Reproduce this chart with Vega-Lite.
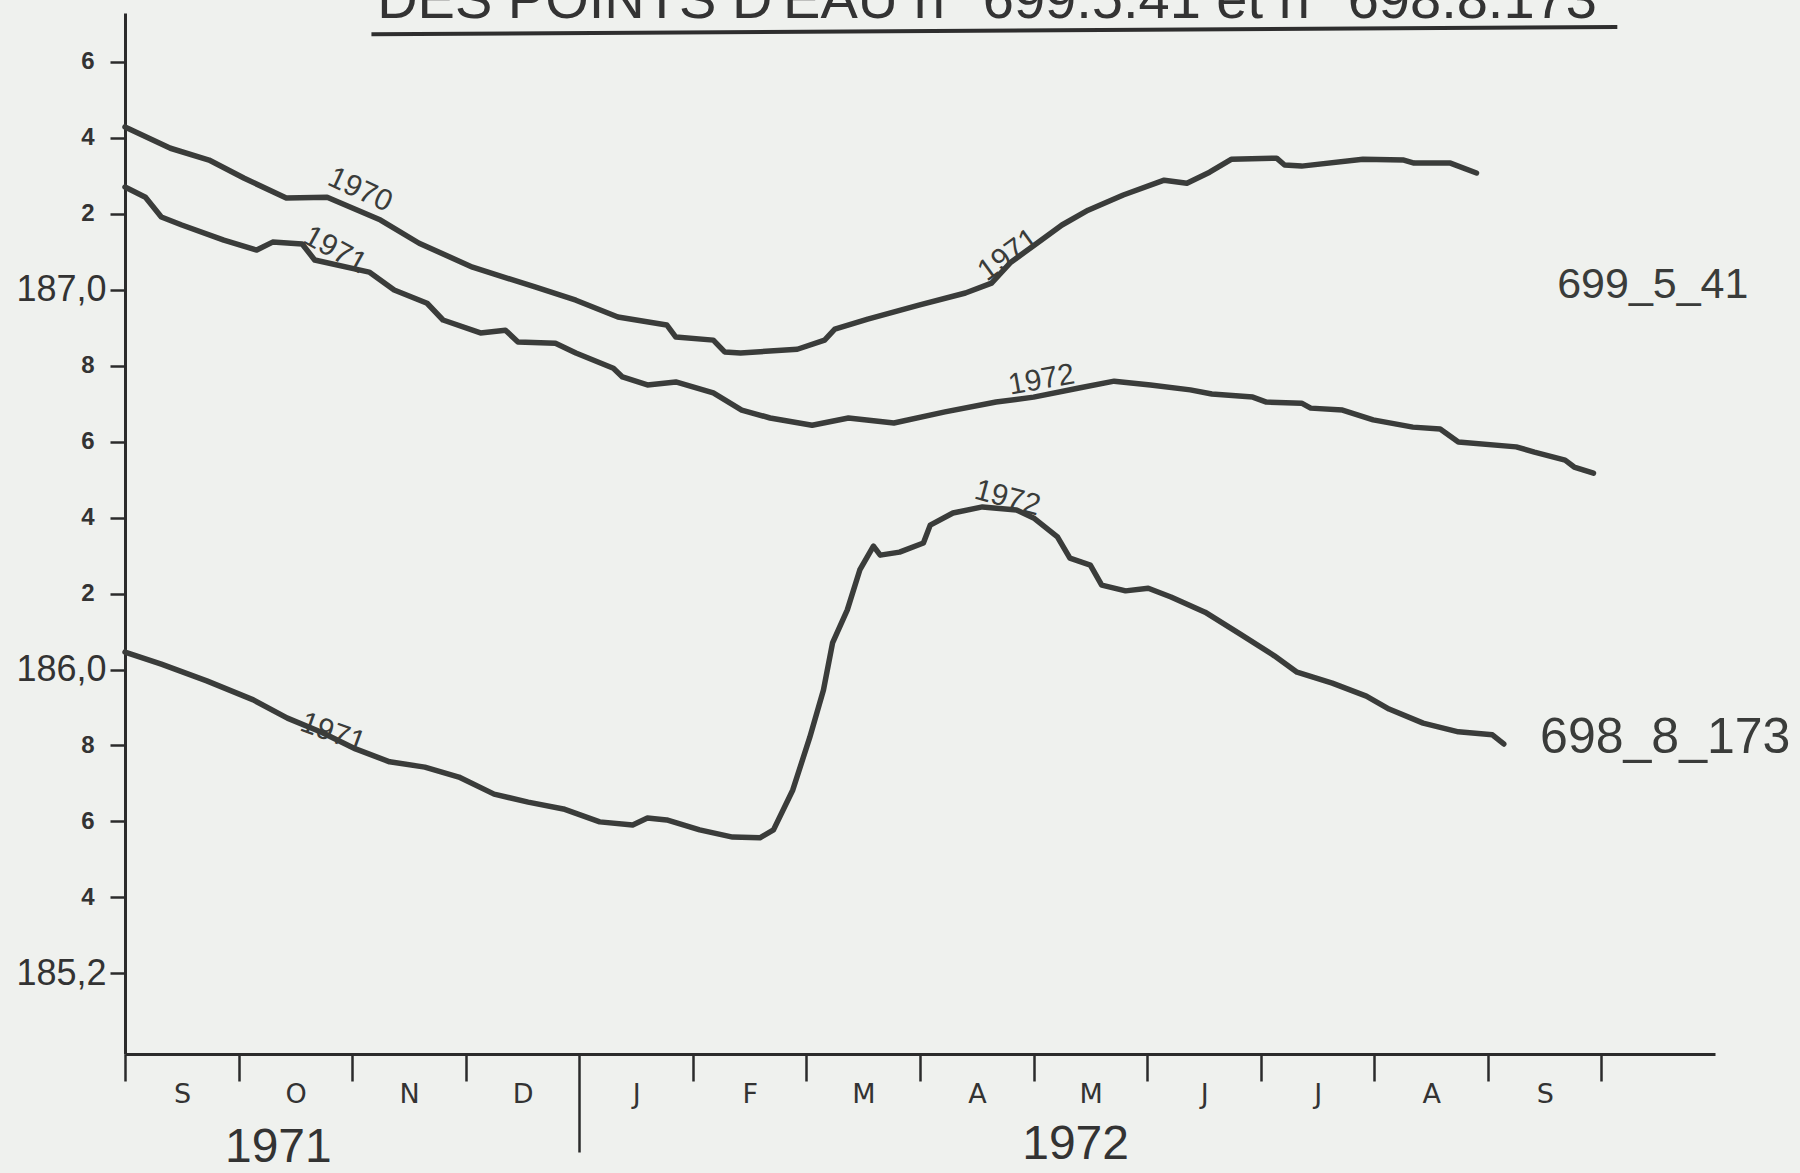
{
  "$schema": "https://vega.github.io/schema/vega-lite/v6.json",
  "width": 1590,
  "height": 1041,
  "autosize": "none",
  "padding": {"left": 125, "top": 13, "right": 85, "bottom": 119},
  "background": "#eff1ee",
  "config": {"view": {"stroke": null}, "font": "Liberation Sans"},
  "datasets": {
    "curves": [
      {"series": "699.5.41 1970-71", "m": 0, "v": 187.428},
      {"series": "699.5.41 1970-71", "m": 0.40, "v": 187.372},
      {"series": "699.5.41 1970-71", "m": 0.74, "v": 187.341},
      {"series": "699.5.41 1970-71", "m": 1.05, "v": 187.293},
      {"series": "699.5.41 1970-71", "m": 1.42, "v": 187.241},
      {"series": "699.5.41 1970-71", "m": 1.78, "v": 187.243},
      {"series": "699.5.41 1970-71", "m": 2.25, "v": 187.183},
      {"series": "699.5.41 1970-71", "m": 2.59, "v": 187.122},
      {"series": "699.5.41 1970-71", "m": 3.06, "v": 187.059},
      {"series": "699.5.41 1970-71", "m": 3.61, "v": 187.007},
      {"series": "699.5.41 1970-71", "m": 3.97, "v": 186.972},
      {"series": "699.5.41 1970-71", "m": 4.34, "v": 186.928},
      {"series": "699.5.41 1970-71", "m": 4.77, "v": 186.907},
      {"series": "699.5.41 1970-71", "m": 4.85, "v": 186.875},
      {"series": "699.5.41 1970-71", "m": 5.18, "v": 186.867},
      {"series": "699.5.41 1970-71", "m": 5.28, "v": 186.836},
      {"series": "699.5.41 1970-71", "m": 5.42, "v": 186.833},
      {"series": "699.5.41 1970-71", "m": 5.92, "v": 186.843},
      {"series": "699.5.41 1970-71", "m": 6.16, "v": 186.867},
      {"series": "699.5.41 1970-71", "m": 6.25, "v": 186.896},
      {"series": "699.5.41 1970-71", "m": 6.54, "v": 186.922},
      {"series": "699.5.41 1970-71", "m": 6.99, "v": 186.959},
      {"series": "699.5.41 1970-71", "m": 7.40, "v": 186.991},
      {"series": "699.5.41 1970-71", "m": 7.63, "v": 187.017},
      {"series": "699.5.41 1970-71", "m": 7.80, "v": 187.072},
      {"series": "699.5.41 1970-71", "m": 8.03, "v": 187.122},
      {"series": "699.5.41 1970-71", "m": 8.25, "v": 187.170},
      {"series": "699.5.41 1970-71", "m": 8.48, "v": 187.209},
      {"series": "699.5.41 1970-71", "m": 8.79, "v": 187.249},
      {"series": "699.5.41 1970-71", "m": 9.15, "v": 187.288},
      {"series": "699.5.41 1970-71", "m": 9.35, "v": 187.280},
      {"series": "699.5.41 1970-71", "m": 9.55, "v": 187.309},
      {"series": "699.5.41 1970-71", "m": 9.74, "v": 187.343},
      {"series": "699.5.41 1970-71", "m": 10.14, "v": 187.346},
      {"series": "699.5.41 1970-71", "m": 10.21, "v": 187.328},
      {"series": "699.5.41 1970-71", "m": 10.36, "v": 187.325},
      {"series": "699.5.41 1970-71", "m": 10.90, "v": 187.343},
      {"series": "699.5.41 1970-71", "m": 11.26, "v": 187.341},
      {"series": "699.5.41 1970-71", "m": 11.35, "v": 187.333},
      {"series": "699.5.41 1970-71", "m": 11.67, "v": 187.333},
      {"series": "699.5.41 1970-71", "m": 11.90, "v": 187.307},

      {"series": "699.5.41 1971-72", "m": 0, "v": 187.270},
      {"series": "699.5.41 1971-72", "m": 0.18, "v": 187.243},
      {"series": "699.5.41 1971-72", "m": 0.32, "v": 187.191},
      {"series": "699.5.41 1971-72", "m": 0.50, "v": 187.170},
      {"series": "699.5.41 1971-72", "m": 0.87, "v": 187.130},
      {"series": "699.5.41 1971-72", "m": 1.16, "v": 187.104},
      {"series": "699.5.41 1971-72", "m": 1.30, "v": 187.125},
      {"series": "699.5.41 1971-72", "m": 1.56, "v": 187.120},
      {"series": "699.5.41 1971-72", "m": 1.67, "v": 187.078},
      {"series": "699.5.41 1971-72", "m": 2.15, "v": 187.046},
      {"series": "699.5.41 1971-72", "m": 2.37, "v": 186.999},
      {"series": "699.5.41 1971-72", "m": 2.66, "v": 186.964},
      {"series": "699.5.41 1971-72", "m": 2.80, "v": 186.920},
      {"series": "699.5.41 1971-72", "m": 3.13, "v": 186.886},
      {"series": "699.5.41 1971-72", "m": 3.35, "v": 186.893},
      {"series": "699.5.41 1971-72", "m": 3.46, "v": 186.862},
      {"series": "699.5.41 1971-72", "m": 3.79, "v": 186.859},
      {"series": "699.5.41 1971-72", "m": 3.97, "v": 186.833},
      {"series": "699.5.41 1971-72", "m": 4.30, "v": 186.793},
      {"series": "699.5.41 1971-72", "m": 4.38, "v": 186.770},
      {"series": "699.5.41 1971-72", "m": 4.60, "v": 186.749},
      {"series": "699.5.41 1971-72", "m": 4.85, "v": 186.757},
      {"series": "699.5.41 1971-72", "m": 5.18, "v": 186.728},
      {"series": "699.5.41 1971-72", "m": 5.43, "v": 186.683},
      {"series": "699.5.41 1971-72", "m": 5.68, "v": 186.662},
      {"series": "699.5.41 1971-72", "m": 6.05, "v": 186.643},
      {"series": "699.5.41 1971-72", "m": 6.37, "v": 186.662},
      {"series": "699.5.41 1971-72", "m": 6.77, "v": 186.649},
      {"series": "699.5.41 1971-72", "m": 7.22, "v": 186.678},
      {"series": "699.5.41 1971-72", "m": 7.67, "v": 186.704},
      {"series": "699.5.41 1971-72", "m": 8.00, "v": 186.717},
      {"series": "699.5.41 1971-72", "m": 8.40, "v": 186.741},
      {"series": "699.5.41 1971-72", "m": 8.71, "v": 186.759},
      {"series": "699.5.41 1971-72", "m": 9.03, "v": 186.749},
      {"series": "699.5.41 1971-72", "m": 9.38, "v": 186.736},
      {"series": "699.5.41 1971-72", "m": 9.57, "v": 186.725},
      {"series": "699.5.41 1971-72", "m": 9.93, "v": 186.717},
      {"series": "699.5.41 1971-72", "m": 10.05, "v": 186.704},
      {"series": "699.5.41 1971-72", "m": 10.36, "v": 186.701},
      {"series": "699.5.41 1971-72", "m": 10.44, "v": 186.688},
      {"series": "699.5.41 1971-72", "m": 10.72, "v": 186.683},
      {"series": "699.5.41 1971-72", "m": 10.99, "v": 186.657},
      {"series": "699.5.41 1971-72", "m": 11.34, "v": 186.638},
      {"series": "699.5.41 1971-72", "m": 11.58, "v": 186.633},
      {"series": "699.5.41 1971-72", "m": 11.74, "v": 186.599},
      {"series": "699.5.41 1971-72", "m": 12.25, "v": 186.586},
      {"series": "699.5.41 1971-72", "m": 12.41, "v": 186.572},
      {"series": "699.5.41 1971-72", "m": 12.68, "v": 186.551},
      {"series": "699.5.41 1971-72", "m": 12.76, "v": 186.533},
      {"series": "699.5.41 1971-72", "m": 12.93, "v": 186.517},

      {"series": "698.8.173 1971-72", "m": 0, "v": 186.046},
      {"series": "698.8.173 1971-72", "m": 0.32, "v": 186.014},
      {"series": "698.8.173 1971-72", "m": 0.72, "v": 185.970},
      {"series": "698.8.173 1971-72", "m": 1.13, "v": 185.920},
      {"series": "698.8.173 1971-72", "m": 1.43, "v": 185.872},
      {"series": "698.8.173 1971-72", "m": 1.73, "v": 185.835},
      {"series": "698.8.173 1971-72", "m": 2.03, "v": 185.791},
      {"series": "698.8.173 1971-72", "m": 2.33, "v": 185.757},
      {"series": "698.8.173 1971-72", "m": 2.64, "v": 185.743},
      {"series": "698.8.173 1971-72", "m": 2.94, "v": 185.717},
      {"series": "698.8.173 1971-72", "m": 3.25, "v": 185.672},
      {"series": "698.8.173 1971-72", "m": 3.55, "v": 185.651},
      {"series": "698.8.173 1971-72", "m": 3.86, "v": 185.633},
      {"series": "698.8.173 1971-72", "m": 4.18, "v": 185.599},
      {"series": "698.8.173 1971-72", "m": 4.47, "v": 185.591},
      {"series": "698.8.173 1971-72", "m": 4.60, "v": 185.609},
      {"series": "698.8.173 1971-72", "m": 4.77, "v": 185.604},
      {"series": "698.8.173 1971-72", "m": 5.06, "v": 185.578},
      {"series": "698.8.173 1971-72", "m": 5.35, "v": 185.559},
      {"series": "698.8.173 1971-72", "m": 5.59, "v": 185.557},
      {"series": "698.8.173 1971-72", "m": 5.71, "v": 185.578},
      {"series": "698.8.173 1971-72", "m": 5.88, "v": 185.683},
      {"series": "698.8.173 1971-72", "m": 6.03, "v": 185.822},
      {"series": "698.8.173 1971-72", "m": 6.15, "v": 185.946},
      {"series": "698.8.173 1971-72", "m": 6.23, "v": 186.070},
      {"series": "698.8.173 1971-72", "m": 6.36, "v": 186.157},
      {"series": "698.8.173 1971-72", "m": 6.47, "v": 186.262},
      {"series": "698.8.173 1971-72", "m": 6.59, "v": 186.325},
      {"series": "698.8.173 1971-72", "m": 6.65, "v": 186.301},
      {"series": "698.8.173 1971-72", "m": 6.82, "v": 186.309},
      {"series": "698.8.173 1971-72", "m": 7.03, "v": 186.333},
      {"series": "698.8.173 1971-72", "m": 7.09, "v": 186.380},
      {"series": "698.8.173 1971-72", "m": 7.29, "v": 186.412},
      {"series": "698.8.173 1971-72", "m": 7.55, "v": 186.428},
      {"series": "698.8.173 1971-72", "m": 7.85, "v": 186.420},
      {"series": "698.8.173 1971-72", "m": 8.00, "v": 186.399},
      {"series": "698.8.173 1971-72", "m": 8.21, "v": 186.349},
      {"series": "698.8.173 1971-72", "m": 8.32, "v": 186.293},
      {"series": "698.8.173 1971-72", "m": 8.50, "v": 186.275},
      {"series": "698.8.173 1971-72", "m": 8.60, "v": 186.222},
      {"series": "698.8.173 1971-72", "m": 8.81, "v": 186.207},
      {"series": "698.8.173 1971-72", "m": 9.01, "v": 186.214},
      {"series": "698.8.173 1971-72", "m": 9.21, "v": 186.191},
      {"series": "698.8.173 1971-72", "m": 9.51, "v": 186.151},
      {"series": "698.8.173 1971-72", "m": 9.82, "v": 186.093},
      {"series": "698.8.173 1971-72", "m": 10.12, "v": 186.036},
      {"series": "698.8.173 1971-72", "m": 10.32, "v": 185.993},
      {"series": "698.8.173 1971-72", "m": 10.63, "v": 185.964},
      {"series": "698.8.173 1971-72", "m": 10.93, "v": 185.930},
      {"series": "698.8.173 1971-72", "m": 11.13, "v": 185.896},
      {"series": "698.8.173 1971-72", "m": 11.43, "v": 185.859},
      {"series": "698.8.173 1971-72", "m": 11.74, "v": 185.836},
      {"series": "698.8.173 1971-72", "m": 12.04, "v": 185.828},
      {"series": "698.8.173 1971-72", "m": 12.14, "v": 185.804}
    ]
  },
  "encoding": {
    "x": {
      "field": "m",
      "type": "quantitative",
      "scale": {"domain": [0, 14], "nice": false, "zero": false},
      "axis": {
        "title": null,
        "grid": false,
        "values": [0, 1, 2, 3, 4, 5, 6, 7, 8, 9, 10, 11, 12, 13],
        "labelExpr": "['S','O','N','D','J','F','M','A','M','J','J','A','S',''][datum.value]",
        "labelOffset": 57,
        "labelPadding": {"condition": {"test": "datum.value == 4", "value": -71}, "value": 0},
        "labelFont": "DejaVu Sans",
        "labelFontSize": 27,
        "labelColor": "#333333",
        "labelAngle": 0,
        "labelFlush": false,
        "labelOverlap": false,
        "labelBound": false,
        "tickSize": {"condition": {"test": "datum.value == 4", "value": 98}, "value": 27},
        "tickWidth": 2.5,
        "tickColor": "#2b2b2b",
        "domainColor": "#2b2b2b",
        "domainWidth": 3
      }
    },
    "y": {
      "field": "v",
      "type": "quantitative",
      "scale": {"domain": [184.988, 187.728], "nice": false, "zero": false},
      "axis": {
        "title": null,
        "grid": false,
        "values": [185.2, 185.4, 185.6, 185.8, 186, 186.2, 186.4, 186.6, 186.8, 187, 187.2, 187.4, 187.6],
        "labelExpr": "abs(datum.value - 185.2) < 0.01 ? '185,2' : (round(datum.value * 10) % 10 == 0 ? (round(datum.value) + ',0') : ('' + (round(datum.value * 10) % 10)))",
        "labelFont": "Liberation Sans",
        "labelFontSize": {"condition": {"test": "abs(datum.value - 185.2) < 0.01 || round(datum.value * 10) % 10 == 0", "value": 36}, "value": 24},
        "labelFontWeight": {"condition": {"test": "abs(datum.value - 185.2) < 0.01 || round(datum.value * 10) % 10 == 0", "value": "normal"}, "value": "bold"},
        "labelPadding": {"condition": {"test": "abs(datum.value - 185.2) < 0.01 || round(datum.value * 10) % 10 == 0", "value": 4}, "value": 16},
        "labelColor": "#333333",
        "labelOverlap": false,
        "labelBound": false,
        "labelFlush": false,
        "tickSize": 15,
        "tickWidth": 2.5,
        "tickColor": "#2b2b2b",
        "domainColor": "#2b2b2b",
        "domainWidth": 3
      }
    }
  },
  "layer": [
    {
      "data": {"name": "curves"},
      "mark": {"type": "line", "color": "#3a3c3a", "strokeWidth": 5.5, "strokeJoin": "round", "strokeCap": "round"},
      "encoding": {"detail": {"field": "series"}}
    },
    {
      "data": {"values": [{"label": "DES POINTS D'EAU n° 699.5.41 et n° 698.8.173", "m": 7.59, "v": 187.714}]},
      "mark": {"type": "text", "fontSize": 56, "color": "#333333", "font": "Liberation Sans", "align": "center", "baseline": "alphabetic"},
      "encoding": {"text": {"field": "label"}}
    },
    {
      "data": {"values": [{"m": 2.17, "v": 187.672, "m2": 13.14, "v2": 187.691}]},
      "mark": {"type": "rule", "color": "#2e2e2e", "strokeWidth": 4},
      "encoding": {
        "x2": {"field": "m2"},
        "y2": {"field": "v2"}
      }
    },
    {
      "data": {"values": [{"label": "1970", "m": 2.07, "v": 187.262}]},
      "mark": {"type": "text", "angle": 25, "fontSize": 30, "color": "#3a3c3a", "font": "Liberation Sans", "align": "center", "baseline": "middle"},
      "encoding": {"text": {"field": "label"}}
    },
    {
      "data": {"values": [{"label": "1971", "m": 1.85, "v": 187.104}]},
      "mark": {"type": "text", "angle": 29, "fontSize": 30, "color": "#3a3c3a", "font": "Liberation Sans", "align": "center", "baseline": "middle"},
      "encoding": {"text": {"field": "label"}}
    },
    {
      "data": {"values": [{"label": "1971", "m": 7.78, "v": 187.091}]},
      "mark": {"type": "text", "angle": -36, "fontSize": 30, "color": "#3a3c3a", "font": "Liberation Sans", "align": "center", "baseline": "middle"},
      "encoding": {"text": {"field": "label"}}
    },
    {
      "data": {"values": [{"label": "1972", "m": 8.07, "v": 186.762}]},
      "mark": {"type": "text", "angle": -10, "fontSize": 30, "color": "#3a3c3a", "font": "Liberation Sans", "align": "center", "baseline": "middle"},
      "encoding": {"text": {"field": "label"}}
    },
    {
      "data": {"values": [{"label": "1972", "m": 7.77, "v": 186.451}]},
      "mark": {"type": "text", "angle": 15, "fontSize": 30, "color": "#3a3c3a", "font": "Liberation Sans", "align": "center", "baseline": "middle"},
      "encoding": {"text": {"field": "label"}}
    },
    {
      "data": {"values": [{"label": "1971", "m": 1.83, "v": 185.833}]},
      "mark": {"type": "text", "angle": 20, "fontSize": 30, "color": "#3a3c3a", "font": "Liberation Sans", "align": "center", "baseline": "middle"},
      "encoding": {"text": {"field": "label"}}
    },
    {
      "data": {"values": [{"label": "699_5_41", "m": 12.61, "v": 187.012}]},
      "mark": {"type": "text", "fontSize": 43, "color": "#3a3c3a", "font": "Liberation Sans", "align": "left", "baseline": "middle"},
      "encoding": {"text": {"field": "label"}}
    },
    {
      "data": {"values": [{"label": "698_8_173", "m": 12.46, "v": 185.820}]},
      "mark": {"type": "text", "fontSize": 50, "color": "#3a3c3a", "font": "Liberation Sans", "align": "left", "baseline": "middle"},
      "encoding": {"text": {"field": "label"}}
    },
    {
      "data": {"values": [
        {"label": "1971", "m": 1.35, "v": 184.741},
        {"label": "1972", "m": 8.37, "v": 184.749}
      ]},
      "mark": {"type": "text", "fontSize": 48, "color": "#333333", "font": "Liberation Sans", "align": "center", "baseline": "middle"},
      "encoding": {"text": {"field": "label"}}
    }
  ]
}
